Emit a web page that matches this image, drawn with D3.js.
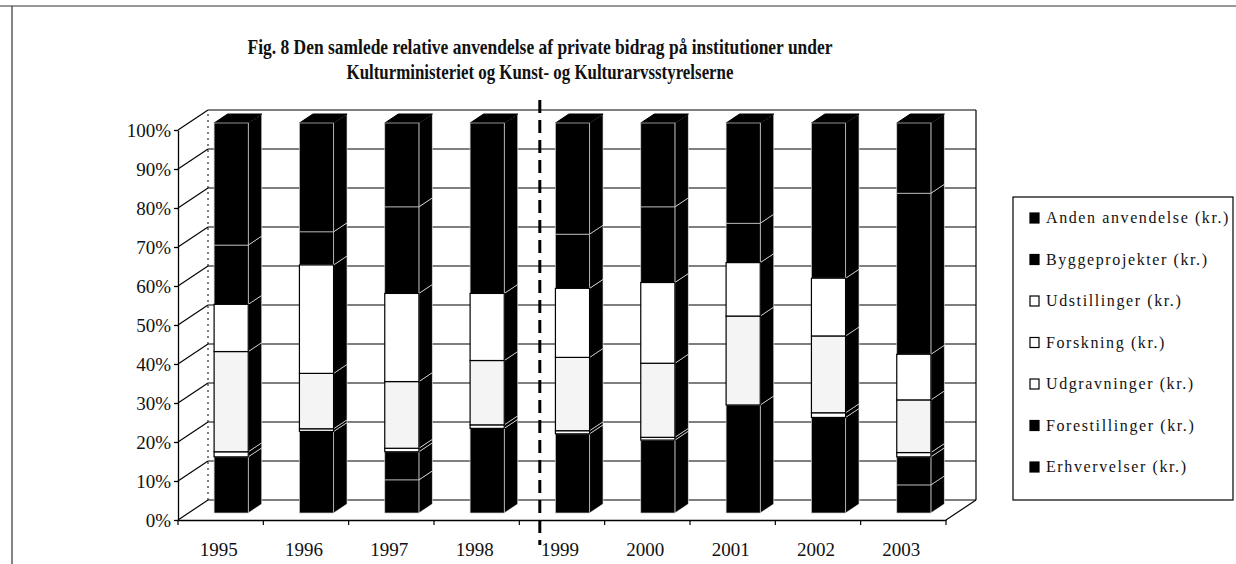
<!DOCTYPE html>
<html>
<head>
<meta charset="utf-8">
<script src="https://cdn.jsdelivr.net/npm/d3@7"></script>
<style>
  body { margin: 0; background: #fff; }
  svg { display: block; }
  text { font-family: "Liberation Serif", "DejaVu Serif", serif; fill: #111; }
</style>
</head>
<body>
<div id="chart"></div>
<script>
// years on the x axis
const years = ["1995", "1996", "1997", "1998", "1999", "2000", "2001", "2002", "2003"]

// series, bottom of the stack first
const seriesNames = ["Erhvervelser (kr.)", "Forestillinger (kr.)", "Udgravninger (kr.)",
  "Forskning (kr.)", "Udstillinger (kr.)", "Byggeprojekter (kr.)", "Anden anvendelse (kr.)"]

// share of the year's total, in percent
const erhvervelser   = [14.4, 20.9,  8.5, 21.7, 20.3, 18.7, 27.7, 24.5,  7.2]
const forestillinger = [ 0.0,  0.0,  7.2,  0.0,  0.0,  0.0,  0.0,  0.0,  7.2]
const udgravninger   = [ 1.3,  0.7,  0.9,  0.9,  0.8,  0.7,  0.0,  1.2,  1.1]
const forskning      = [25.7, 14.2, 17.1, 16.5, 18.8, 19.0, 22.8, 19.7, 13.5]
const udstillinger   = [12.1, 27.8, 22.6, 17.2, 17.7, 20.7, 13.7, 14.8, 11.7]
const byggeprojekter = [15.2,  8.5, 22.2,  0.0, 13.9, 19.4, 10.1,  0.0, 41.3]
const anden          = [31.3, 27.9, 21.5, 43.7, 28.5, 21.5, 25.7, 39.8, 18.0]

const yTicks = [0, 0.1, 0.2, 0.3, 0.4, 0.5, 0.6, 0.7, 0.8, 0.9, 1]

const titleLines = ["Fig. 8 Den samlede relative anvendelse af private bidrag på institutioner under",
  "Kulturministeriet og Kunst- og Kulturarvsstyrelserne"]

let config = {
  width: 1236,
  height: 564,
  left: 178,
  right: 946,
  bottom: 520,
  top: 130,
  depthX: 30,
  depthY: -20,
  faceFront: 0.35,
  faceBack: 0.8,
  fills: ["#000", "#000", "#fff", "#f4f4f4", "#fff", "#000", "#000"]
}

const table = years.map((yr, i) => ({
  year: yr,
  "Erhvervelser (kr.)": erhvervelser[i],
  "Forestillinger (kr.)": forestillinger[i],
  "Udgravninger (kr.)": udgravninger[i],
  "Forskning (kr.)": forskning[i],
  "Udstillinger (kr.)": udstillinger[i],
  "Byggeprojekter (kr.)": byggeprojekter[i],
  "Anden anvendelse (kr.)": anden[i]
}))

const stacked = d3.stack().keys(seriesNames).offset(d3.stackOffsetExpand)(table)

const x = d3.scaleBand().domain(years)
  .range([config.left, config.right])
  .paddingInner(0.6).paddingOuter(0.3)
const y = d3.scaleLinear().domain([0, 1]).range([config.bottom, config.top])
const color = d3.scaleOrdinal().domain(seriesNames).range(config.fills)

// point in the 3d box: px on front plane, value v, depth fraction f
function pt(px, v, f) {
  return [px + config.depthX * f, y(v) + config.depthY * f]
}

let svg = d3.select("#chart").append("svg")
  .attr("width", config.width)
  .attr("height", config.height)

// page frame from the scan
svg.append("line").attr("x1", 0).attr("x2", config.width).attr("y1", 6).attr("y2", 6)
  .attr("stroke", "#333").attr("stroke-width", 1.2)
svg.append("line").attr("x1", 12).attr("x2", 12).attr("y1", 6).attr("y2", config.height)
  .attr("stroke", "#333").attr("stroke-width", 1.2)

// walls and gridlines
let walls = svg.append("g").attr("stroke", "#000").attr("fill", "none")
yTicks.forEach(t => {
  let a = pt(config.left, t, 1), b = pt(config.right, t, 1), c = pt(config.left, t, 0)
  walls.append("line").attr("x1", a[0]).attr("y1", a[1]).attr("x2", b[0]).attr("y2", b[1])
    .attr("stroke-width", 1.2)
  walls.append("line").attr("x1", c[0]).attr("y1", c[1]).attr("x2", a[0]).attr("y2", a[1])
    .attr("stroke-width", 1.2)
})
let bl = pt(config.left, 0, 1), tl = pt(config.left, 1, 1)
walls.append("line").attr("x1", bl[0]).attr("y1", bl[1]).attr("x2", tl[0]).attr("y2", tl[1])
  .attr("stroke-dasharray", "2,4").attr("stroke-width", 1)
let br = pt(config.right, 0, 1), tr = pt(config.right, 1, 1), fr = pt(config.right, 0, 0)
walls.append("line").attr("x1", br[0]).attr("y1", br[1]).attr("x2", tr[0]).attr("y2", tr[1])
  .attr("stroke-width", 1.2)
walls.append("line").attr("x1", fr[0]).attr("y1", fr[1]).attr("x2", br[0]).attr("y2", br[1])
  .attr("stroke-width", 1.2)

// bars
let bars = svg.append("g")
years.forEach((yr, i) => {
  let xl = x(yr), xr = x(yr) + x.bandwidth()
  let segs = stacked.map(s => ({ key: s.key, y0: s[i][0], y1: s[i][1] }))
    .filter(d => d.y1 - d.y0 > 0.0001)

  // side faces
  segs.forEach(d => {
    let p = [pt(xr, d.y0, config.faceFront), pt(xr, d.y0, config.faceBack),
      pt(xr, d.y1, config.faceBack), pt(xr, d.y1, config.faceFront)]
    bars.append("polygon").attr("points", p.join(" "))
      .attr("fill", "#000").attr("stroke", "#fff").attr("stroke-width", 0.6)
  })
  // top face
  let top = [pt(xl, 1, config.faceFront), pt(xl, 1, config.faceBack),
    pt(xr, 1, config.faceBack), pt(xr, 1, config.faceFront)]
  bars.append("polygon").attr("points", top.join(" "))
    .attr("fill", "#000").attr("stroke", "#000")

  // front faces: dark ones first, light ones on top so their black rims show
  let order = segs.slice().sort((a, b) => (color(a.key) === "#000" ? 0 : 1) - (color(b.key) === "#000" ? 0 : 1))
  order.forEach(d => {
    let a = pt(xl, d.y1, config.faceFront), b = pt(xr, d.y0, config.faceFront)
    let dark = color(d.key) === "#000"
    bars.append("rect")
      .attr("x", a[0]).attr("y", a[1])
      .attr("width", b[0] - a[0]).attr("height", b[1] - a[1])
      .attr("fill", color(d.key))
      .attr("stroke", dark ? "#ccc" : "#000")
      .attr("stroke-width", dark ? 0.7 : 1.2)
  })
})

// y axis
let yAxis = svg.append("g")
  .attr("transform", "translate(" + config.left + ",0)")
  .call(d3.axisLeft(y).tickValues(yTicks).tickFormat(d3.format(".0%"))
    .tickSize(4).tickPadding(3).tickSizeOuter(0))
yAxis.selectAll("text").style("font-size", "19px").style("font-family", "Liberation Serif")
yAxis.selectAll("line, path").attr("stroke", "#000").attr("stroke-width", 1.3)

// x axis
let xAxis = svg.append("g")
  .attr("transform", "translate(0," + config.bottom + ")")
  .call(d3.axisBottom(x).tickSize(0).tickPadding(23).tickSizeOuter(0))
xAxis.selectAll("text").style("font-size", "19px").style("font-family", "Liberation Serif")
  .attr("dx", -2)
xAxis.select("path").attr("stroke", "#000").attr("stroke-width", 1.5)
d3.range(years.length + 1).forEach(i => {
  let bx = config.left + i * x.step()
  xAxis.append("line").attr("x1", bx).attr("x2", bx).attr("y1", 0).attr("y2", 5)
    .attr("stroke", "#000").attr("stroke-width", 1.2)
})

// dashed divider between 1998 and 1999
let divX = x("1999") - x.step() * 0.06
svg.append("line")
  .attr("x1", divX).attr("x2", divX).attr("y1", 100).attr("y2", 545)
  .attr("stroke", "#000").attr("stroke-width", 3).attr("stroke-dasharray", "13,7")

// title
svg.selectAll(".title").data(titleLines).enter().append("text")
  .attr("class", "title")
  .attr("x", 540)
  .attr("y", (d, i) => 54 + i * 25)
  .attr("text-anchor", "middle")
  .attr("textLength", (d, i) => i === 0 ? 585 : 387)
  .attr("lengthAdjust", "spacingAndGlyphs")
  .style("font-size", "21px")
  .style("font-weight", "bold")
  .text(d => d)

// legend
let legend = svg.append("g").attr("transform", "translate(1013,197)")
legend.append("rect").attr("width", 220).attr("height", 303)
  .attr("fill", "#fff").attr("stroke", "#000").attr("stroke-width", 1.2)
seriesNames.slice().reverse().forEach((name, i) => {
  let cy = 21 + i * 41.5
  legend.append("rect").attr("x", 17).attr("y", cy - 5).attr("width", 9).attr("height", 10)
    .attr("fill", color(name) === "#000" ? "#000" : "#fff")
    .attr("stroke", "#000").attr("stroke-width", 1.2)
  legend.append("text").attr("x", 33).attr("y", cy + 5)
    .style("font-size", "16px").style("letter-spacing", "1.6px")
    .text(name)
})
</script>
</body>
</html>
